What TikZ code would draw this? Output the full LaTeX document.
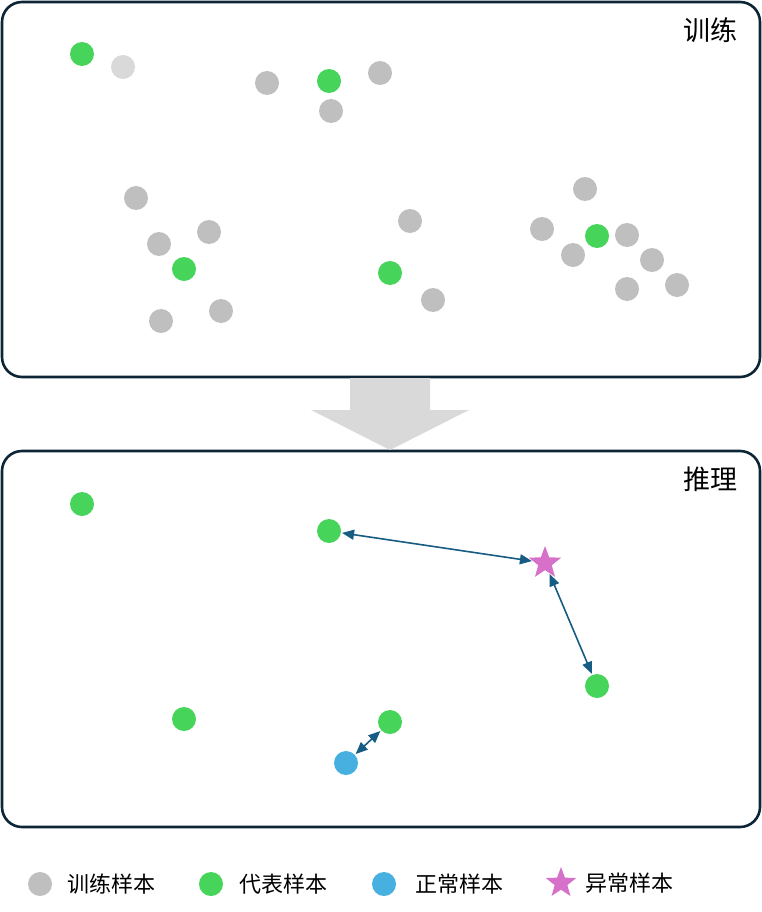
\documentclass[tikz,border=0pt]{standalone}
\usepackage{fontspec}
\newfontfamily\cjk{Noto Sans CJK SC}
\usetikzlibrary{shapes.geometric,arrows.meta,positioning}
\definecolor{framec}{HTML}{0D2637}
\definecolor{greyc}{HTML}{BFBFBF}
\definecolor{lgreyc}{HTML}{D9D9D9}
\definecolor{greenc}{HTML}{47D45A}
\definecolor{bluec}{HTML}{47B0E0}
\definecolor{pinkc}{HTML}{D670C8}
\definecolor{linkc}{HTML}{175C82}
\tikzset{
  dot/.style={circle,inner sep=0pt,minimum size=24pt},
  trn/.style={dot,fill=greyc},
  rep/.style={dot,fill=greenc},
  nrm/.style={dot,fill=bluec},
  abn/.style={star,star points=5,star point ratio=2.4,inner sep=0pt,minimum size=34pt,fill=pinkc},
  link/.style={linkc,line width=1.6pt,{Triangle[length=12pt,width=10pt]}-{Triangle[length=12pt,width=10pt]},shorten <=1pt,shorten >=1pt},
  panel/.style={framec,line width=2.6pt,rounded corners=20pt},
  keytext/.style={inner sep=0pt,font=\cjk\fontsize{22}{24}\selectfont}
}
\begin{document}
\begin{tikzpicture}[x=1pt,y=-1pt]
  \useasboundingbox (0,0) rectangle (762,912);
  % panels
  \draw [panel] (2,2) rectangle (760,377);
  \draw [panel] (2,451) rectangle (760,827);
  \node (t1) at (710,30) {\cjk\fontsize{27}{29}\selectfont 训练};
  \node (t2) at (710,479) {\cjk\fontsize{27}{29}\selectfont 推理};
  % big arrow
  \fill [lgreyc] (350,378) -- (430,378) -- (430,410) -- (469,410) -- (390,450)
                 -- (311,410) -- (350,410) -- cycle;
  % training samples
  \node [rep] (a1) at (82,54) {};
  \node [dot,fill=lgreyc] (a2) at (123,67) {};
  \node [trn] (a3) at (267,83) {};
  \node [rep] (a4) at (329,81) {};
  \node [trn] (a5) at (380,73) {};
  \node [trn] (a6) at (331,111) {};
  \node [trn] (b1) at (136,198) {};
  \node [trn] (b2) at (159,244) {};
  \node [trn] (b3) at (209,232) {};
  \node [rep] (b4) at (184,269) {};
  \node [trn] (b5) at (161,321) {};
  \node [trn] (b6) at (221,311) {};
  \node [trn] (c1) at (410,221) {};
  \node [rep] (c2) at (390,273) {};
  \node [trn] (c3) at (433,300) {};
  \node [trn] (d1) at (585,189) {};
  \node [trn] (d2) at (542,229) {};
  \node [trn] (d3) at (573,255) {};
  \node [rep] (d4) at (597,236) {};
  \node [trn] (d5) at (627,235) {};
  \node [trn] (d6) at (652,260) {};
  \node [trn] (d7) at (627,289) {};
  \node [trn] (d8) at (677,285) {};
  % inference
  \node [rep] (r1) at (82,504) {};
  \node [rep] (r2) at (329,531) {};
  \node [rep] (r3) at (597,686) {};
  \node [rep] (r4) at (184,719) {};
  \node [rep] (r5) at (390,722) {};
  \node [nrm] (q1) at (346,763) {};
  \node [abn] (q2) at (545,563) {};
  \draw [link] (r2) -- (q2);
  \draw [link] (q2) -- (r3);
  \draw [link] (q1) -- (r5);
  % legend
  \node [trn] (k1) at (40,884) {};
  \node [keytext,right=15pt of k1] (l1) {训练样本};
  \node [rep] (k2) at (211,884) {};
  \node [keytext,right=16pt of k2] (l2) {代表样本};
  \node [nrm] (k3) at (384,884) {};
  \node [keytext,right=19pt of k3] (l3) {正常样本};
  \node [abn,minimum size=32pt] (k4) at (561,883) {};
  \node [keytext,right=15pt of k4] (l4) {异常样本};
\end{tikzpicture}
\end{document}
